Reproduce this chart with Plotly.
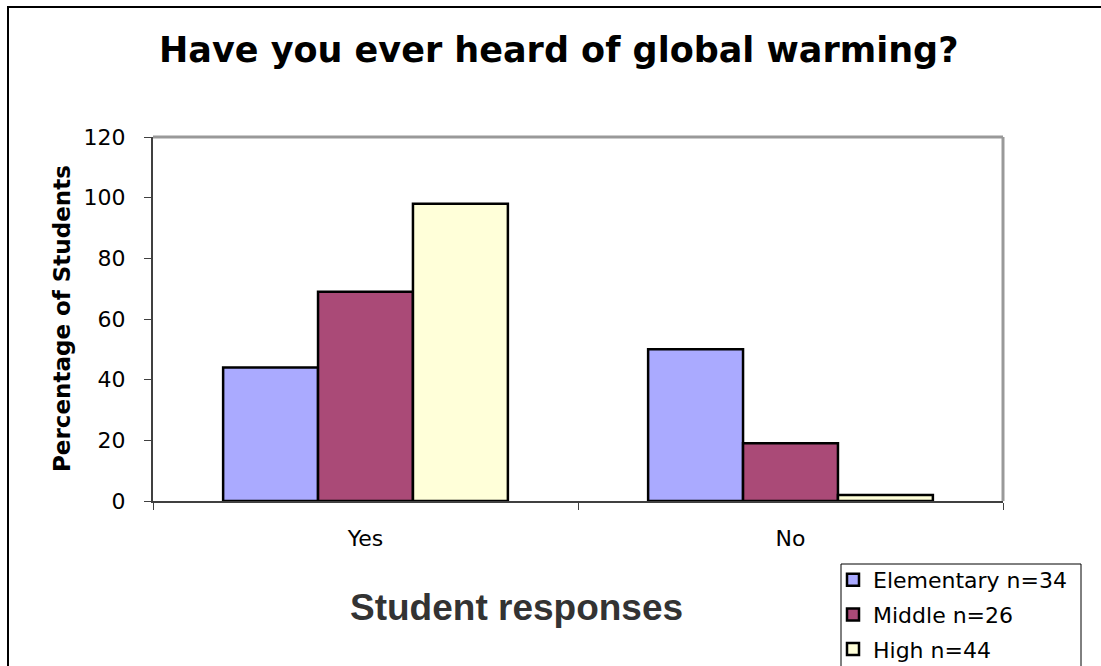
import plotly.graph_objects as go

# Survey data: share of students (%) answering each response, by school level
responses = ["Yes", "No"]
series_names = ["Elementary n=34", "Middle n=26", "High n=44"]
elementary = [44, 50]
middle = [69, 19]
high = [98, 2]
series_values = [elementary, middle, high]
series_colors = ["#AAAAFF", "#AA4A77", "#FFFFD9"]

y_ticks = [0, 20, 40, 60, 80, 100, 120]

# Plot-area geometry in pixels, used to place paper-referenced decorations
W, H = 1101, 666
L, R, T, B = 153, 1003, 137, 501


def px_x(px):
    return (px - L) / (R - L)


def px_y(py):
    return (B - py) / (B - T)


fig = go.Figure()
for i, (name, vals, color) in enumerate(zip(series_names, series_values, series_colors)):
    fig.add_trace(go.Bar(
        x=responses,
        y=vals,
        name=name,
        legendgroup=f"g{i}",
        marker=dict(color=color, line=dict(color="#000000", width=2.5)),
    ))

fig.update_layout(
    width=W,
    height=H,
    margin=dict(l=L, r=W - R, t=T, b=H - B, pad=0, autoexpand=False),
    paper_bgcolor="white",
    plot_bgcolor="white",
    barmode="group",
    bargap=0.33,
    bargroupgap=0,
    showlegend=True,
    legend=dict(
        x=px_x(833), y=px_y(559), xanchor="left", yanchor="top",
        bgcolor="rgba(0,0,0,0)", borderwidth=0,
        font=dict(family="DejaVu Sans", size=22, color="#000000"),
        tracegroupgap=3, itemwidth=30,
    ),
    font=dict(family="DejaVu Sans", color="#000000"),
)

fig.update_xaxes(
    showgrid=False, zeroline=False,
    showline=True, linecolor="#404040", linewidth=2,
    ticks="outside", tickson="boundaries", ticklen=7, tickcolor="#404040", tickwidth=1,
    tickfont=dict(family="DejaVu Sans", size=22, color="#000000"),
    ticklabelstandoff=17,
)
fig.update_yaxes(
    range=[0, 120], tickvals=y_ticks, ticktext=[str(v) for v in y_ticks],
    showgrid=False, zeroline=False,
    showline=True, linecolor="#404040", linewidth=2,
    ticks="outside", ticklen=7, tickcolor="#404040", tickwidth=1,
    tickfont=dict(family="DejaVu Sans", size=22, color="#000000"),
    ticklabelstandoff=14,
)

# Outer chart frame, legend frame and the gray top/right edges of the plot area
fig.add_shape(type="rect", xref="paper", yref="paper",
              x0=px_x(8), y0=px_y(700), x1=px_x(1120), y1=px_y(7),
              line=dict(color="#000000", width=2), fillcolor="rgba(0,0,0,0)", layer="below")
fig.add_shape(type="rect", xref="paper", yref="paper",
              x0=px_x(841), y0=px_y(700), x1=px_x(1081), y1=px_y(564),
              line=dict(color="#000000", width=1), fillcolor="white", layer="below")
fig.add_shape(type="line", xref="paper", yref="paper", x0=0, y0=1, x1=1, y1=1,
              line=dict(color="#999999", width=3))
fig.add_shape(type="line", xref="paper", yref="paper", x0=1, y0=0, x1=1, y1=1,
              line=dict(color="#999999", width=3))

# Titles
fig.add_annotation(text="<b>Have you ever heard of global warming?</b>",
                   xref="paper", yref="paper", x=px_x(558), y=px_y(50),
                   xanchor="center", yanchor="middle", showarrow=False,
                   font=dict(family="DejaVu Sans", size=35, color="#000000"))
fig.add_annotation(text="<b>Percentage of Students</b>",
                   xref="paper", yref="paper", x=px_x(62), y=px_y(319),
                   xanchor="center", yanchor="middle", showarrow=False, textangle=-90,
                   font=dict(family="DejaVu Sans", size=23, color="#000000"))
fig.add_annotation(text="<b>Student responses</b>",
                   xref="paper", yref="paper", x=px_x(516), y=px_y(607),
                   xanchor="center", yanchor="middle", showarrow=False,
                   font=dict(family="Liberation Sans", size=37, color="#333333"))

fig.write_html("out.html")
